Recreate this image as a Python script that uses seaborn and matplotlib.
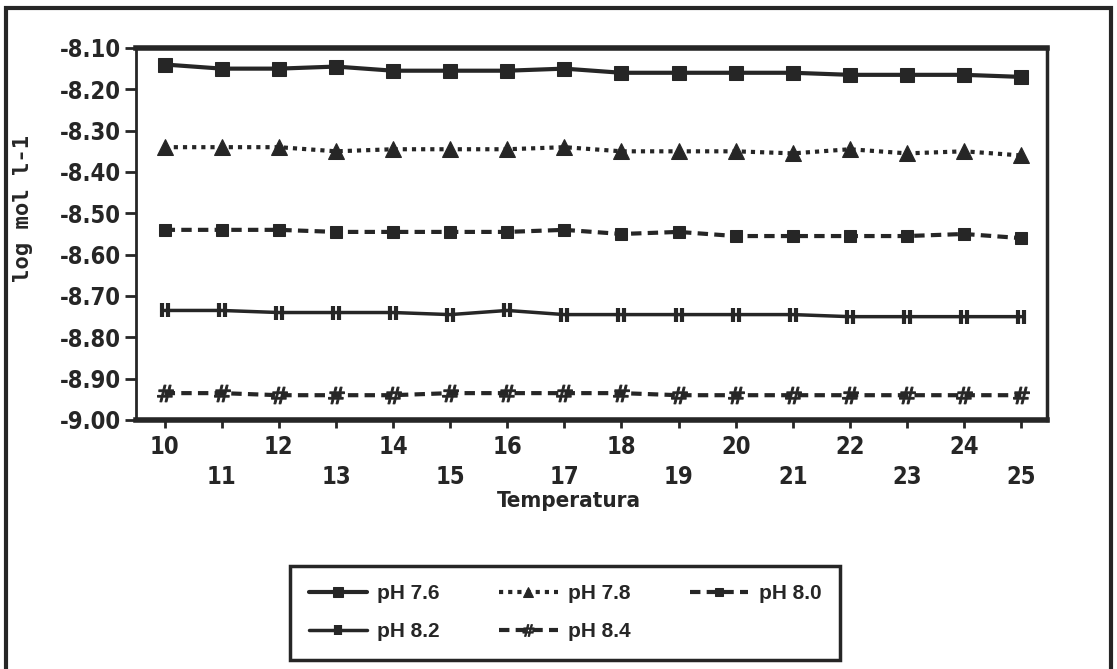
import numpy as np
import pandas as pd
import seaborn as sns
import matplotlib
import matplotlib.pyplot as plt
from matplotlib.path import Path
from matplotlib.patches import Rectangle
from matplotlib.font_manager import FontProperties
matplotlib.use('Agg')

# data
temperatura = list(range(10, 26))
ph_76 = [-8.140, -8.150, -8.150, -8.145, -8.155, -8.155, -8.155, -8.150,
         -8.160, -8.160, -8.160, -8.160, -8.165, -8.165, -8.165, -8.170]
ph_78 = [-8.340, -8.340, -8.340, -8.350, -8.345, -8.345, -8.345, -8.340,
         -8.350, -8.350, -8.350, -8.355, -8.345, -8.355, -8.350, -8.360]
ph_80 = [-8.540, -8.540, -8.540, -8.545, -8.545, -8.545, -8.545, -8.540,
         -8.550, -8.545, -8.555, -8.555, -8.555, -8.555, -8.550, -8.560]
ph_82 = [-8.735, -8.735, -8.740, -8.740, -8.740, -8.745, -8.735, -8.745,
         -8.745, -8.745, -8.745, -8.745, -8.750, -8.750, -8.750, -8.750]
ph_84 = [-8.935, -8.935, -8.940, -8.940, -8.940, -8.935, -8.935, -8.935,
         -8.935, -8.940, -8.940, -8.940, -8.940, -8.940, -8.940, -8.940]
series_names = ['pH 7.6', 'pH 7.8', 'pH 8.0', 'pH 8.2', 'pH 8.4']
y_ticks = [-9.0, -8.9, -8.8, -8.7, -8.6, -8.5, -8.4, -8.3, -8.2, -8.1]

df = pd.DataFrame({'Temperatura': temperatura, 'pH 7.6': ph_76, 'pH 7.8': ph_78,
                   'pH 8.0': ph_80, 'pH 8.2': ph_82, 'pH 8.4': ph_84})
long_df = df.melt(id_vars='Temperatura', var_name='serie', value_name='valor')

sns.set_style('white')
plt.rcParams['font.family'] = ['DejaVu Sans']

ink = '#262626'
double_bar = Path([(-0.45, -1), (-0.45, 1), (0.45, -1), (0.45, 1)],
                  [Path.MOVETO, Path.LINETO, Path.MOVETO, Path.LINETO])
styles = {
    'pH 7.6': dict(marker='s', markersize=10, linestyle='-', linewidth=3),
    'pH 7.8': dict(marker='^', markersize=11, linestyle=(0, (1, 1.2)), linewidth=3),
    'pH 8.0': dict(marker='s', markersize=9, linestyle=(0, (2.5, 1.5)), linewidth=3),
    'pH 8.2': dict(marker=double_bar, markersize=10, linestyle='-', linewidth=2.5,
                   markeredgewidth=3),
    'pH 8.4': dict(marker='$\\#$', markersize=12, linestyle=(0, (2.5, 1.5)), linewidth=3),
}

fig = plt.figure(figsize=(11.17, 6.69), dpi=100)
ax = fig.add_axes([0.1218, 0.3722, 0.8155, 0.5561])

handles = {}
for name in series_names:
    sub = long_df[long_df['serie'] == name]
    sns.lineplot(data=sub, x='Temperatura', y='valor', ax=ax, color=ink,
                 markeredgecolor=ink, markerfacecolor=ink, label=name,
                 **styles[name])
for line, name in zip(ax.get_lines(), series_names):
    handles[name] = line

ax.set_xlim(9.5, 25.45)
ax.set_ylim(-9.0, -8.1)
ax.set_yticks(y_ticks)
ax.set_yticklabels([f'{v:.2f}' for v in y_ticks])
ax.set_xticks(temperatura)
ax.set_xticklabels([str(t) if t % 2 == 0 else '\n' + str(t) for t in temperatura])

tick_font = FontProperties(family='DejaVu Sans', stretch='condensed', weight='bold', size=17)
for lbl in ax.get_xticklabels() + ax.get_yticklabels():
    lbl.set_fontproperties(tick_font)
    lbl.set_color(ink)
for lbl in ax.get_xticklabels():
    lbl.set_linespacing(1.3)

ax.tick_params(axis='y', direction='out', length=8, width=2, pad=3, color=ink, left=True)
ax.tick_params(axis='x', direction='out', length=6, width=2, pad=5, color=ink, bottom=True)

for side, lw in [('top', 4), ('bottom', 4), ('left', 2), ('right', 2.5)]:
    ax.spines[side].set_linewidth(lw)
    ax.spines[side].set_color(ink)

ax.set_xlabel('Temperatura', fontdict=dict(family='DejaVu Sans', stretch='condensed',
              weight='bold', size=16), color=ink, labelpad=0)
ax.xaxis.set_label_coords(0.475, -0.19)
ax.set_ylabel('log mol l-1', fontdict=dict(family='DejaVu Sans Mono', weight='bold',
              size=16), color=ink)
ax.yaxis.label.set_va('center')
ax.yaxis.set_label_coords(-0.124, 0.57)

# legend in row order: 7.6 7.8 8.0 / 8.2 8.4
order = ['pH 7.6', 'pH 8.2', 'pH 7.8', 'pH 8.4', 'pH 8.0']
ax.get_legend().remove()
leg = fig.legend([handles[n] for n in order], order, loc='lower left',
                 bbox_to_anchor=(0.2596, 0.0135, 0.4924, 0.154), mode='expand',
                 borderaxespad=0, ncol=3, frameon=True, fancybox=False, framealpha=1,
                 handlelength=2.8, columnspacing=0.6, handletextpad=0.5,
                 borderpad=0.9, labelspacing=0.9, markerscale=0.7,
                 prop=dict(family='Liberation Sans', weight='bold', size=15))
leg.get_frame().set_edgecolor(ink)
leg.get_frame().set_linewidth(2.5)
for txt in leg.get_texts():
    txt.set_color(ink)

# outer frame of the original figure
fig.patches.append(Rectangle((0.005, -0.05), 0.99, 1.038, transform=fig.transFigure,
                             fill=False, edgecolor=ink, linewidth=3, clip_on=False))

fig.savefig('out.png', dpi=100)
